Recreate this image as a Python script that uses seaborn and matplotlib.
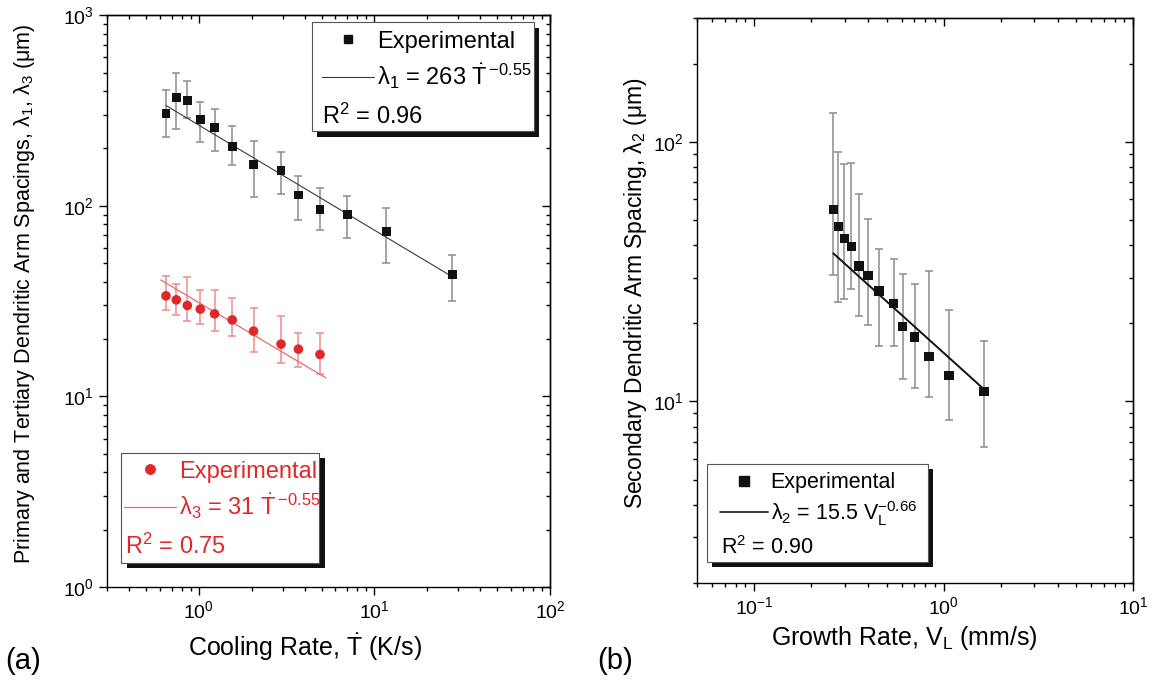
import numpy as np
import pandas as pd
import matplotlib
matplotlib.use("Agg")
import matplotlib.pyplot as plt
import seaborn as sns
from matplotlib.patches import Rectangle
from matplotlib.lines import Line2D
from matplotlib.transforms import offset_copy
from matplotlib.ticker import NullFormatter

# ---------------- data ----------------
cool_rate = [0.65, 0.745, 0.861, 1.02, 1.23, 1.55, 2.05, 2.94, 3.69, 4.90, 7.0, 11.7, 27.8]
lam1 = [305, 369, 358, 284, 258, 205, 164, 153, 114, 96, 89.7, 73.6, 43.4]
lam1_lo = [229, 254, 288, 216, 195, 163, 111, 115, 84.4, 75, 68, 50.4, 31.6]
lam1_hi = [404, 499, 453, 351, 323, 261, 218, 192, 144, 124, 113, 97.6, 55.5]

cool_rate3 = [0.65, 0.745, 0.861, 1.02, 1.23, 1.55, 2.05, 2.94, 3.69, 4.90]
lam3 = [33.7, 32.1, 30.0, 28.7, 27.1, 25.2, 22.0, 18.8, 17.7, 16.6]
lam3_lo = [28.3, 26.7, 24.8, 24.0, 22.0, 20.8, 17.0, 14.9, 14.2, 13.1]
lam3_hi = [42.8, 38.9, 42.3, 36.2, 36.2, 32.9, 29.2, 26.5, 21.5, 21.4]

fit1_x = [0.65, 27.8]
fit1_y = [336, 42.4]
fit3_x = [0.607, 5.3]
fit3_y = [40.8, 12.5]

growth = [0.262, 0.278, 0.299, 0.326, 0.358, 0.40, 0.457, 0.546, 0.609, 0.703, 0.836, 1.07, 1.63]
lam2 = [54.8, 47.2, 42.4, 39.5, 33.3, 30.5, 26.6, 23.8, 19.4, 17.7, 14.9, 12.6, 10.9]
lam2_lo = [30.7, 24.2, 24.9, 27.2, 21.3, 19.7, 16.4, 16.3, 12.2, 11.3, 10.4, 8.5, 6.7]
lam2_hi = [129, 91, 82, 83.2, 63, 50.3, 38.8, 35.3, 30.9, 28.3, 31.7, 22.6, 17.1]

fit2_x = [0.262, 1.60]
fit2_y = [37.2, 11.3]

label_fit1 = r"$\lambda_1$ = 263 $\dot{T}^{\,\mathrm{-0.55}}$"
label_fit3 = r"$\lambda_3$ = 31 $\dot{T}^{\,\mathrm{-0.55}}$"
label_fit2 = r"$\lambda_2$ = 15.5 $V_L^{\mathrm{-0.66}}$"
r2_1, r2_3, r2_2 = "0.96", "0.75", "0.90"

# ---------------- style ----------------
sns.set_theme(style="ticks")
plt.rcParams["font.family"] = ["Liberation Sans", "DejaVu Sans"]
plt.rcParams["mathtext.fontset"] = "custom"
plt.rcParams["mathtext.rm"] = "Liberation Sans"
plt.rcParams["mathtext.it"] = "Liberation Sans:italic"
plt.rcParams["mathtext.bf"] = "Liberation Sans:bold"
plt.rcParams["mathtext.default"] = "regular"
plt.rcParams["axes.linewidth"] = 1.0
plt.rcParams["text.color"] = "black"
plt.rcParams["axes.labelcolor"] = "black"
plt.rcParams["xtick.color"] = "black"
plt.rcParams["ytick.color"] = "black"

RED = "#e0282b"
RED_LIGHT = "#ef8b8b"
BLACK = "#111111"
GRAY = "#8c8c8c"

df1 = pd.DataFrame({"x": cool_rate, "y": lam1, "lo": lam1_lo, "hi": lam1_hi})
df3 = pd.DataFrame({"x": cool_rate3, "y": lam3, "lo": lam3_lo, "hi": lam3_hi})
df2 = pd.DataFrame({"x": growth, "y": lam2, "lo": lam2_lo, "hi": lam2_hi})

fig = plt.figure(figsize=(11.6, 6.84), dpi=100)
ax1 = fig.add_axes([0.0922, 0.1418, 0.382, 0.836])
ax2 = fig.add_axes([0.6009, 0.1477, 0.3759, 0.826])

for ax in (ax1, ax2):
    ax.set_xscale("log")
    ax.set_yscale("log")


def errbars(ax, d, color, lw=1.1, cap=2.6):
    ax.errorbar(d["x"], d["y"], yerr=[d["y"] - d["lo"], d["hi"] - d["y"]],
                fmt="none", ecolor=color, elinewidth=lw, capsize=cap,
                capthick=lw, zorder=2)


# ---- panel (a)
errbars(ax1, df1, GRAY)
errbars(ax1, df3, RED_LIGHT)
sns.lineplot(x=fit1_x, y=fit1_y, ax=ax1, color="#3a3a3a", linewidth=0.8,
             zorder=3, legend=False)
sns.lineplot(x=fit3_x, y=fit3_y, ax=ax1, color="#ec6a6a", linewidth=0.9,
             zorder=3, legend=False)
sns.scatterplot(data=df1, x="x", y="y", ax=ax1, marker="s", s=40,
                color=BLACK, edgecolor="none", zorder=4, legend=False)
sns.scatterplot(data=df3, x="x", y="y", ax=ax1, marker="o", s=48,
                color=RED, edgecolor="none", zorder=4, legend=False)
ax1.set_xlim(0.3, 100)
ax1.set_ylim(1, 1000)

# ---- panel (b)
errbars(ax2, df2, GRAY, cap=2.9)
sns.lineplot(x=fit2_x, y=fit2_y, ax=ax2, color=BLACK, linewidth=1.4,
             zorder=3, legend=False)
sns.scatterplot(data=df2, x="x", y="y", ax=ax2, marker="s", s=46,
                color=BLACK, edgecolor="none", zorder=4, legend=False)
ax2.set_xlim(0.05, 10)
ax2.set_ylim(2, 300)

# ---- ticks: outward on bottom/left, inward mirror on top/right
for ax in (ax1, ax2):
    ax.tick_params(which="both", direction="out", top=False, right=False,
                   colors="black", labelsize=14, width=1.0)
    ax.tick_params(which="major", length=5.5, pad=4)
    ax.tick_params(which="minor", length=3.2)
    sx = ax.secondary_xaxis("top")
    sy = ax.secondary_yaxis("right")
    for sec, axis in ((sx, sx.xaxis), (sy, sy.yaxis)):
        sec.tick_params(which="both", direction="in", width=1.0)
        sec.tick_params(which="major", length=5.5)
        sec.tick_params(which="minor", length=3.2)
        axis.set_major_formatter(NullFormatter())
        axis.set_minor_formatter(NullFormatter())
    for sp in ax.spines.values():
        sp.set_color("black")

# ---- axis labels
ax1.set_xlabel(r"Cooling Rate, $\dot{T}$ (K/s)", fontsize=18, va="center")
ax1.xaxis.set_label_coords(0.447, -0.105)
ax1.set_ylabel(r"Primary and Tertiary Dendritic Arm Spacings, $\lambda_1$, $\lambda_3$ ($\mu$m)",
               fontsize=15.5, va="center")
ax1.yaxis.set_label_coords(-0.185, 0.512)

ax2.set_xlabel(r"Growth Rate, $V_L$ (mm/s)", fontsize=18, va="center")
ax2.xaxis.set_label_coords(0.475, -0.097)
ax2.set_ylabel(r"Secondary Dendritic Arm Spacing, $\lambda_2$ ($\mu$m)",
               fontsize=16.5, va="center")
ax2.yaxis.set_label_coords(-0.14, 0.513)

fig.text(5 / 1160, 1 - 661 / 684, "(a)", fontsize=21, va="center", ha="left")
fig.text(597 / 1160, 1 - 661 / 684, "(b)", fontsize=21, va="center", ha="left")


# ---- legend boxes with drop shadow
def legend_box(ax, x0, y0, x1, y1, dx=5, dy=5):
    shadow = Rectangle((x0, y0), x1 - x0, y1 - y0, facecolor="#111111",
                       edgecolor="none", zorder=5,
                       transform=offset_copy(ax.transAxes, fig=fig, x=dx, y=-dy, units="dots"))
    box = Rectangle((x0, y0), x1 - x0, y1 - y0, facecolor="white",
                    edgecolor="#555555", linewidth=0.8, zorder=6,
                    transform=ax.transAxes)
    ax.add_patch(shadow)
    ax.add_patch(box)


def legend_entries(ax, handles, labels, x, ytop, fs, color, hl, spacing):
    leg = ax.legend(handles, labels, loc="upper left", bbox_to_anchor=(x, ytop),
                    frameon=False, fontsize=fs, handlelength=hl,
                    handletextpad=0.15, borderpad=0, borderaxespad=0,
                    labelspacing=spacing, labelcolor=color)
    leg.set_zorder(7)
    return leg


legend_box(ax1, 0.463, 0.797, 0.964, 0.988, 5, 6)
h1 = [Line2D([], [], marker="s", ls="none", color=BLACK, markersize=6.3),
      Line2D([], [], color="#3a3a3a", lw=0.8)]
leg1 = legend_entries(ax1, h1, ["Experimental", label_fit1], 0.485, 0.973, 17, "black", 2.2, 0.4)
ax1.add_artist(leg1)
ax1.text(0.486, 0.823, "R$^2$ = " + r2_1, transform=ax1.transAxes, fontsize=17,
         va="center", ha="left", color="black", zorder=8)

legend_box(ax1, 0.0316, 0.042, 0.479, 0.234, 6, 5)
h3 = [Line2D([], [], marker="o", ls="none", color=RED, markersize=6.8),
      Line2D([], [], color="#ec6a6a", lw=0.9)]
leg3 = legend_entries(ax1, h3, ["Experimental", label_fit3], 0.038, 0.221, 17, RED, 2.2, 0.4)
ax1.text(0.040, 0.0717, "R$^2$ = " + r2_3, transform=ax1.transAxes, fontsize=17,
         va="center", ha="left", color=RED, zorder=8)

legend_box(ax2, 0.023, 0.0366, 0.530, 0.2106, 5, 5)
h2 = [Line2D([], [], marker="s", ls="none", color=BLACK, markersize=6.5),
      Line2D([], [], color=BLACK, lw=1.2)]
leg2 = legend_entries(ax2, h2, ["Experimental", label_fit2], 0.053, 0.196, 15.5, "black", 2.2, 0.25)
ax2.text(0.055, 0.062, "R$^2$ = " + r2_2, transform=ax2.transAxes, fontsize=15.5,
         va="center", ha="left", color="black", zorder=8)

fig.savefig("out.png", dpi=100)
